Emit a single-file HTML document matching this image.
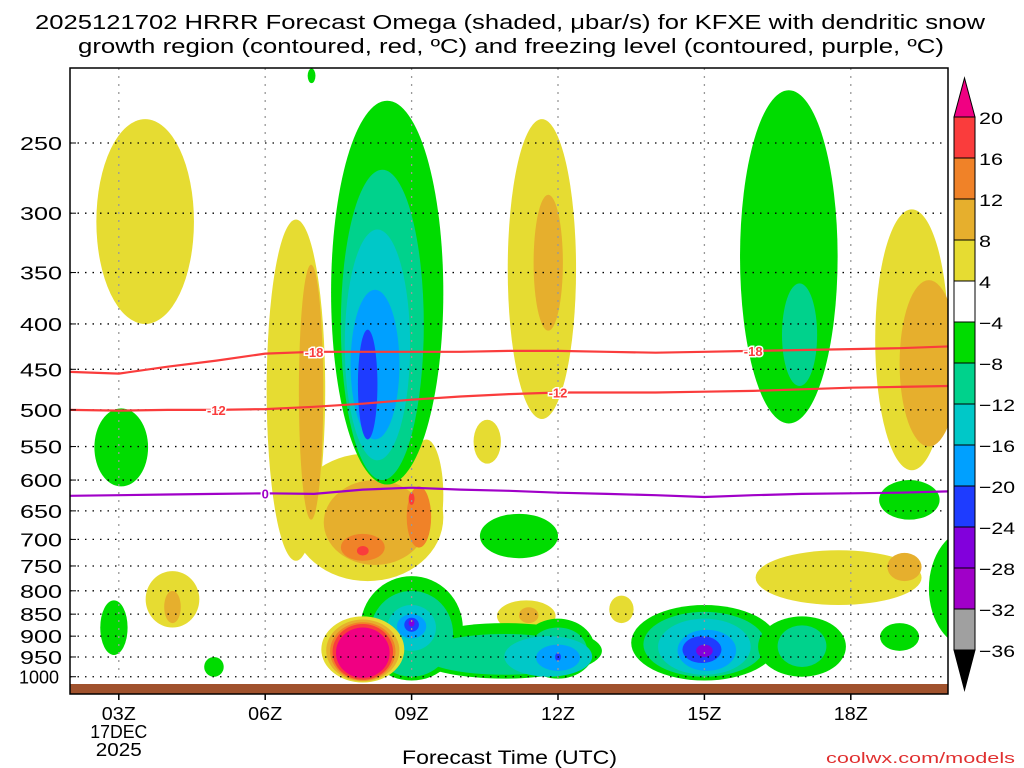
<!DOCTYPE html>
<html><head><meta charset="utf-8">
<style>
body{margin:0;background:#fff;}
svg{display:block;font-family:"Liberation Sans",sans-serif;}
</style></head>
<body>
<svg id="chart" width="1024" height="768" viewBox="0 0 1024 768" xmlns="http://www.w3.org/2000/svg">
<text x="35" y="29" font-size="20" textLength="950" lengthAdjust="spacingAndGlyphs">2025121702 HRRR Forecast Omega (shaded, μbar/s) for KFXE with dendritic snow</text>
<text x="78" y="53" font-size="20" textLength="866" lengthAdjust="spacingAndGlyphs">growth region (contoured, red, ºC) and freezing level (contoured, purple, ºC)</text>
<defs><clipPath id="plotclip"><rect x="70" y="68" width="878" height="616"/></clipPath></defs>
<g id="fills" clip-path="url(#plotclip)"></g>
<g id="grid"></g>
<g id="lines" clip-path="url(#plotclip)"></g>
<rect x="70" y="684" width="878" height="10" fill="#a0522d"/>
<rect x="70" y="68" width="878" height="626" fill="none" stroke="#000" stroke-width="1.5"/>
<g id="axes" font-size="18"></g>
<text x="402" y="764" font-size="19" textLength="215" lengthAdjust="spacingAndGlyphs">Forecast Time (UTC)</text>
<text x="826" y="763" font-size="15" textLength="189" lengthAdjust="spacingAndGlyphs" fill="#e03030">coolwx.com/models</text>
<g id="cbar"></g>
</svg>
<script>
const NS="http://www.w3.org/2000/svg";
// axis data
const pressureTicks=[250,300,350,400,450,500,550,600,650,700,750,800,850,900,950,1000];
const hourTicks=[3,6,9,12,15,18];
const hourLabels=["03Z","06Z","09Z","12Z","15Z","18Z"];
const levelBounds=[20,16,12,8,4,-4,-8,-12,-16,-20,-24,-28,-32,-36];
const levelColors={">20":"#f00082","16":"#fa3c3c","12":"#f08228","8":"#e6af2d","4":"#e6dc32",
 "-4":"#00dc00","-8":"#00d28c","-12":"#00c8c8","-16":"#00a0ff","-20":"#1e3cff","-24":"#8200dc","-28":"#a000c8","-32":"#a0a0a0"};
// blobs: [level, centerHour, halfWidthHours, pTop, pBottom]
const blobs=[
["4",3.54,1.0,235,400],
["-4",3.05,0.55,498,610],
["4",4.1,0.55,760,880],["8",4.1,0.17,800,870],
["-4",2.9,0.28,820,945],
["-4",4.95,0.2,950,1000],
["-4",6.95,0.08,206,214],
["4",6.63,0.6,305,740],["4",8.1,1.55,560,780],["4",9.3,0.35,540,720],
["8",6.94,0.25,343,665],["8",8.25,1.05,600,748],["12",9.15,0.25,610,715],["12",8.0,0.45,690,740],
["16",8.0,0.12,712,730],["16",9.0,0.06,620,640],
["-4",8.5,1.15,224,607],["-8",8.4,0.85,268,600],["-12",8.3,0.67,313,570],["-16",8.25,0.5,366,540],["-20",8.1,0.2,406,540],
["4",11.67,0.7,235,512],["8",11.8,0.3,286,407],["4",10.55,0.28,513,575],
["-4",11.2,0.8,655,735],
["-4",16.73,1.0,218,518],["-8",16.95,0.36,360,470],
["4",19.25,0.75,297,585],["8",19.6,0.6,357,550],
["-4",19.2,0.62,600,665],
["4",17.75,1.7,720,830],["8",19.1,0.35,725,780],
["-4",20.5,0.9,680,930],["-8",20.9,0.4,780,850],
["4",11.35,0.6,820,890],["8",11.4,0.2,835,870],
["4",13.3,0.25,810,870],
["-4",9.0,1.05,770,1010],["-4",10.9,2.0,870,1005],["-4",12.0,0.75,860,1005],
["-8",9.0,0.85,800,1000],["-8",10.9,1.7,895,995],["-8",12.0,0.6,880,995],
["-12",9.0,0.5,830,935],["-12",11.8,0.9,900,1000],["-16",9.0,0.3,850,905],["-16",12.0,0.45,920,985],
["-20",9.0,0.15,858,890],["-24",9.0,0.06,862,878],["-20",12.0,0.06,940,960],
["-4",15.0,1.5,830,1010],["-8",15.0,1.25,845,1000],["-12",15.0,0.95,860,995],["-16",15.05,0.6,885,985],["-20",14.95,0.4,900,965],["-24",15.0,0.17,920,950],
["-4",17.0,0.9,855,1000],["-8",17.0,0.5,875,975],
["-4",19.0,0.4,870,935],
["4",20.7,0.6,900,1005],["8",20.9,0.3,925,985],
["4",8.0,0.85,855,1015],["8",8.0,0.75,862,1012],["12",8.0,0.67,868,1010],["16",8.0,0.62,872,1008],[">20",8.0,0.55,880,1003]
];
// contour lines
const lineHours=[2,3,4,5,6,7,8,9,10,11,12,13,14,15,16,17,18,19,20,21,21.6];
const freezingP=[625,624,623,622,621,622,615,612,615,617,620,622,624,627,624,622,621,620,618,615,613];
const minus18P=[453,455,447,440,432,430,430,430,430,429,429,430,431,430,429,428,427,426,424,423,423];
const minus12P=[500,501,500,500,499,496,492,487,483,480,478,478,478,477,476,474,472,471,470,470,470];
const lineLabels=[["0",freezingP,6.0,"#a000c8"],["-18",minus18P,7.0,"#fa3c3c"],["-18",minus18P,16.0,"#fa3c3c"],["-12",minus12P,5.0,"#fa3c3c"],["-12",minus12P,12.0,"#fa3c3c"]];

const X0=70,H0=2,PXH=48.8;
function x(h){return X0+(h-H0)*PXH;}
function y(p){return 143+385*Math.log(p/250);}
function el(tag,attrs,parent){const e=document.createElementNS(NS,tag);for(const k in attrs)e.setAttribute(k,attrs[k]);parent.appendChild(e);return e;}

const fills=document.getElementById('fills');
blobs.forEach(b=>{
 const x1=x(b[1]-b[2]),x2=x(b[1]+b[2]),y1=y(b[3]),y2=y(b[4]);
 const e=el('ellipse',{cx:(x1+x2)/2,cy:(y1+y2)/2,rx:(x2-x1)/2,ry:(y2-y1)/2,fill:levelColors[b[0]]},fills);
 
 
});

const grid=document.getElementById('grid');
const axes=document.getElementById('axes');
pressureTicks.forEach(p=>{
 const g=el('line',{x1:70,x2:948,y1:y(p),y2:y(p),stroke:'#000','stroke-dasharray':'1.5 6','stroke-width':1.3},grid);
 
 
 const s=String(p);
 const w=s.length>3?40:42;
 const x0=s.length>3?19:20;
 const t=el('text',{x:x0,y:y(p)+7,textLength:w,lengthAdjust:'spacingAndGlyphs'},axes);t.textContent=s;
 
 
 el('line',{x1:70,x2:76,y1:y(p),y2:y(p),stroke:'#000'},axes);
});
hourTicks.forEach((h,i)=>{
 const g=el('line',{x1:x(h),x2:x(h),y1:68,y2:684,stroke:'#999','stroke-dasharray':'2 6','stroke-width':1.3},grid);
 
 
 el('line',{x1:x(h),x2:x(h),y1:694,y2:700,stroke:'#000','stroke-width':1.5},axes);
 const t=el('text',{x:x(h)-17,y:720,textLength:34,lengthAdjust:'spacingAndGlyphs'},axes);t.textContent=hourLabels[i];
 
 
});
[["17DEC",738,57],["2025",756,46]].forEach(d=>{const t=el('text',{x:x(3)-d[2]/2,y:d[1],textLength:d[2],lengthAdjust:'spacingAndGlyphs'},axes);t.textContent=d[0];
 
 });

const lines=document.getElementById('lines');
function drawLine(vals,color,name){
 const d=vals.map((p,i)=>(i?'L':'M')+x(lineHours[i]).toFixed(1)+','+y(p).toFixed(1)).join(' ');
 const e=el('path',{d:d,fill:'none',stroke:color,'stroke-width':2.2,'stroke-linejoin':'round'},lines);
 
 
}
drawLine(freezingP,'#a000c8','freezing-level-line');
drawLine(minus18P,'#fa3c3c','minus18-isotherm');
drawLine(minus12P,'#fa3c3c','minus12-isotherm');
function interp(vals,h){for(let i=0;i<lineHours.length-1;i++){if(h>=lineHours[i]&&h<=lineHours[i+1]){const f=(h-lineHours[i])/(lineHours[i+1]-lineHours[i]);return vals[i]+f*(vals[i+1]-vals[i]);}}return vals[0];}
lineLabels.forEach(l=>{
 const cx=x(l[2]),cy=y(interp(l[1],l[2]));
 const t=el('text',{x:cx,y:cy+5,'text-anchor':'middle','font-size':13,'font-weight':'bold',fill:l[3],stroke:'#fff','stroke-width':3,'paint-order':'stroke'},lines);
 t.textContent=l[0];
 
 
});

// colorbar
const cb=document.getElementById('cbar');
const CX=954,CW=21,CT=117,STEP=(650-117)/13;
el('polygon',{points:`${CX},${CT} ${CX+CW},${CT} ${CX+CW/2},78`,fill:levelColors['>20'],stroke:'#000'},cb);
const boxCols=[levelColors["16"],levelColors["12"],levelColors["8"],levelColors["4"],"#ffffff",levelColors["-4"],levelColors["-8"],levelColors["-12"],levelColors["-16"],levelColors["-20"],levelColors["-24"],levelColors["-28"],levelColors["-32"]];
boxCols.forEach((c,i)=>{const r=el('rect',{x:CX,y:CT+i*STEP,width:CW,height:STEP,fill:c,stroke:'#000','stroke-width':1},cb);
 
 });
el('polygon',{points:`${CX},650 ${CX+CW},650 ${CX+CW/2},690`,fill:'#000',stroke:'#000'},cb);
levelBounds.forEach((v,i)=>{const s=(v<0?'\u2212'+(-v):String(v));const w=(v<0?12:0)+String(Math.abs(v)).length*12;
 const t=el('text',{x:979,y:CT+i*STEP+7,'font-size':17,textLength:w,lengthAdjust:'spacingAndGlyphs'},cb);t.textContent=s;
 
 });
</script>
</body></html>
